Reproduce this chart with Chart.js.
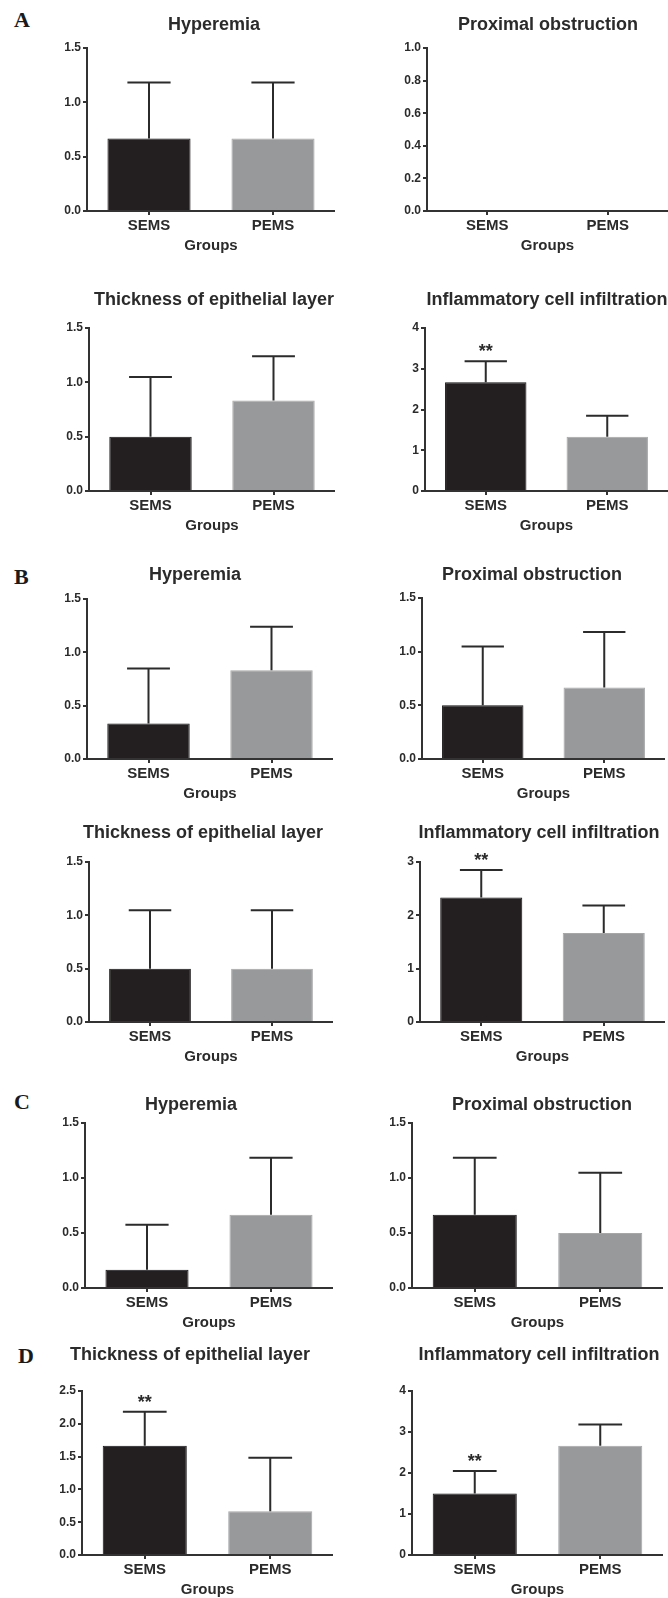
<!DOCTYPE html>
<html>
<head>
<meta charset="utf-8">
<script src="https://cdn.jsdelivr.net/npm/chart.js@4.4.1/dist/chart.umd.min.js"></script>
<style>
  body { margin: 0; background: #fff; width: 668px; height: 1598px; position: relative; overflow: hidden; }
  canvas { position: absolute; }
  .letter { position: absolute; font: bold 22px "Liberation Serif", "DejaVu Serif", serif; color: #1a1a1a; line-height: 1; }
</style>
</head>
<body>
<div class="letter" style="left:14px;top:9px">A</div>
<div class="letter" style="left:14px;top:566px">B</div>
<div class="letter" style="left:14px;top:1091px">C</div>
<div class="letter" style="left:18px;top:1345px">D</div>
<div id="panels"></div>
<script>
// data, one entry per panel (A1..A4, B1..B4, C1, C2, D1, D2)
const groups = ['SEMS', 'PEMS'];
const titles = [
  'Hyperemia', 'Proximal obstruction', 'Thickness of epithelial layer', 'Inflammatory cell infiltration',
  'Hyperemia', 'Proximal obstruction', 'Thickness of epithelial layer', 'Inflammatory cell infiltration',
  'Hyperemia', 'Proximal obstruction',
  'Thickness of epithelial layer', 'Inflammatory cell infiltration'
];
const means = [
  [0.667, 0.667], [0, 0], [0.5, 0.833], [2.667, 1.333],
  [0.333, 0.833], [0.5, 0.667], [0.5, 0.5], [2.333, 1.667],
  [0.167, 0.667], [0.667, 0.5],
  [1.667, 0.667], [1.5, 2.667]
];
const sds = [
  [0.516, 0.516], [0, 0], [0.548, 0.408], [0.516, 0.516],
  [0.516, 0.408], [0.548, 0.516], [0.548, 0.548], [0.516, 0.516],
  [0.408, 0.516], [0.516, 0.548],
  [0.516, 0.816], [0.548, 0.516]
];
const yMax = [1.5, 1.0, 1.5, 4, 1.5, 1.5, 1.5, 3, 1.5, 1.5, 2.5, 4];
const yStep = [0.5, 0.2, 0.5, 1, 0.5, 0.5, 0.5, 1, 0.5, 0.5, 0.5, 1];
const stars = [
  ['', ''], ['', ''], ['', ''], ['**', ''],
  ['', ''], ['', ''], ['', ''], ['**', ''],
  ['', ''], ['', ''],
  ['**', ''], ['**', '']
];

// where each plot sits on the page: y axis x, x axis end, top/bottom of plot, title centre
const frames = [
  { x0: 87, x1: 335, top: 48, bot: 211, tx: 214, ty: 25 },
  { x0: 427, x1: 668, top: 48, bot: 211, tx: 548, ty: 25 },
  { x0: 89, x1: 335, top: 328, bot: 491, tx: 214, ty: 300 },
  { x0: 425, x1: 668, top: 328, bot: 491, tx: 547, ty: 300 },
  { x0: 87, x1: 333, top: 599, bot: 759, tx: 195, ty: 575 },
  { x0: 422, x1: 665, top: 598, bot: 759, tx: 532, ty: 575 },
  { x0: 89, x1: 333, top: 862, bot: 1022, tx: 203, ty: 833 },
  { x0: 420, x1: 665, top: 862, bot: 1022, tx: 539, ty: 833 },
  { x0: 85, x1: 333, top: 1123, bot: 1288, tx: 191, ty: 1105 },
  { x0: 412, x1: 663, top: 1123, bot: 1288, tx: 542, ty: 1105 },
  { x0: 82, x1: 333, top: 1391, bot: 1555, tx: 190, ty: 1355 },
  { x0: 412, x1: 663, top: 1391, bot: 1555, tx: 539, ty: 1355 }
];

const INK = '#2b2b2b';
const AXIS_W = 45, TOP_PAD = 45, X_H = 44;

const errorBars = {
  id: 'errorBars',
  afterDatasetsDraw(chart, args, opts) {
    const ctx = chart.ctx;
    const meta = chart.getDatasetMeta(0);
    const y = chart.scales.y;
    ctx.save();
    ctx.strokeStyle = INK;
    ctx.lineWidth = 2;
    meta.data.forEach((bar, i) => {
      const m = opts.means[i], e = opts.sds[i];
      const yTop = y.getPixelForValue(m + e);
      if (e > 0) {
        const half = bar.width * 0.26;
        ctx.beginPath();
        ctx.moveTo(bar.x, y.getPixelForValue(m));
        ctx.lineTo(bar.x, yTop);
        ctx.moveTo(bar.x - half, yTop);
        ctx.lineTo(bar.x + half, yTop);
        ctx.stroke();
      }
      if (opts.stars[i]) {
        ctx.fillStyle = INK;
        ctx.font = 'bold 18px "Liberation Sans", Arial, sans-serif';
        ctx.textAlign = 'center';
        ctx.textBaseline = 'alphabetic';
        ctx.fillText(opts.stars[i], bar.x, yTop - 4);
      }
    });
    ctx.restore();
  }
};

const panelTitle = {
  id: 'panelTitle',
  afterDraw(chart, args, opts) {
    const ctx = chart.ctx;
    ctx.save();
    ctx.fillStyle = INK;
    ctx.font = 'bold 18px "Liberation Sans", Arial, sans-serif';
    ctx.textAlign = 'center';
    ctx.textBaseline = 'middle';
    ctx.fillText(opts.text, opts.x, opts.y);
    ctx.restore();
  }
};

const holder = document.getElementById('panels');

frames.forEach((f, i) => {
  const left = f.x0 - AXIS_W;
  const top = f.top - TOP_PAD;
  const w = f.x1 - left;
  const h = f.bot + X_H - top;

  const canvas = document.createElement('canvas');
  canvas.width = w;
  canvas.height = h;
  canvas.style.left = left + 'px';
  canvas.style.top = top + 'px';
  canvas.style.width = w + 'px';
  canvas.style.height = h + 'px';
  holder.appendChild(canvas);

  const dec = yStep[i] < 1 ? 1 : 0;

  new Chart(canvas, {
    type: 'bar',
    data: {
      labels: groups,
      datasets: [{
        data: means[i],
        backgroundColor: ['#231f20', '#98999b'],
        borderColor: ['#151314', '#a6a7a9'],
        borderWidth: 1,
        barPercentage: 0.67,
        categoryPercentage: 1.0
      }]
    },
    options: {
      responsive: false,
      animation: false,
      layout: { padding: { top: TOP_PAD, left: 0, right: 0, bottom: 0 } },
      plugins: {
        legend: { display: false },
        tooltip: { enabled: false },
        errorBars: { means: means[i], sds: sds[i], stars: stars[i] },
        panelTitle: { text: titles[i], x: f.tx - left, y: f.ty - top }
      },
      scales: {
        x: {
          offset: true,
          ticks: { font: { family: '"Liberation Sans", Arial, sans-serif', size: 15, weight: 'bold' }, color: INK, padding: 2 },
          grid: { offset: false, drawOnChartArea: false, drawTicks: true, tickLength: 4, color: '#333', lineWidth: 2 },
          border: { display: true, color: '#333', width: 2 },
          title: { display: true, text: 'Groups', font: { family: '"Liberation Sans", Arial, sans-serif', size: 15, weight: 'bold' }, color: INK, padding: 0 },
          afterFit: s => { s.height = X_H; }
        },
        y: {
          min: 0,
          max: yMax[i],
          ticks: {
            stepSize: yStep[i],
            callback: v => Number(v).toFixed(dec),
            font: { family: '"Liberation Sans", Arial, sans-serif', size: 12, weight: 'bold' },
            color: INK,
            padding: 2
          },
          grid: { drawOnChartArea: false, drawTicks: true, tickLength: 4, color: '#333', lineWidth: 2 },
          border: { display: true, color: '#333', width: 2 },
          afterFit: s => { s.width = AXIS_W; }
        }
      }
    },
    plugins: [errorBars, panelTitle]
  });
});
</script>
</body>
</html>
